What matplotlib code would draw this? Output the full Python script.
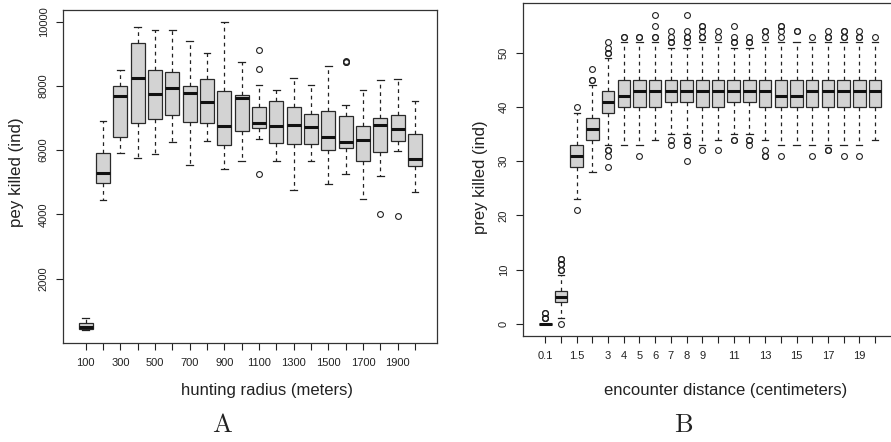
import matplotlib.pyplot as plt
import numpy as np

plt.rcParams['font.family'] = ['Liberation Sans', 'DejaVu Sans']
plt.rcParams['mathtext.fontset'] = 'cm'

# ---- panel A : hunting radius ----
radius = [100, 200, 300, 400, 500, 600, 700, 800, 900, 1000,
          1100, 1200, 1300, 1400, 1500, 1600, 1700, 1800, 1900, 2000]
radius_shown = [100, 300, 500, 700, 900, 1100, 1300, 1500, 1700, 1900]
a_whislo = [390, 4445, 5896, 5751, 5875, 6259, 5523, 6280, 5399, 5647,
            6342, 5658, 4746, 5658, 4943, 5264, 4487, 5192, 5958, 4684]
a_q1 = [420, 4984, 6394, 6850, 6964, 7109, 6870, 6850, 6145, 6601,
        6684, 6218, 6197, 6176, 6000, 6052, 5658, 5938, 6280, 5492]
a_med = [490, 5274, 7689, 8249, 7751, 7948, 7793, 7492, 6756, 7637,
         6839, 6756, 6787, 6725, 6394, 6249, 6321, 6777, 6673, 5720]
a_q3 = [610, 5906, 8010, 9326, 8497, 8425, 8010, 8228, 7844, 7710,
        7337, 7534, 7357, 7130, 7233, 7047, 6756, 6995, 7109, 6487]
a_whishi = [760, 6922, 8487, 9824, 9741, 9741, 9389, 9036, 9990, 8756,
            8041, 7865, 8259, 8041, 8622, 7409, 7886, 8186, 8228, 7534]
a_fliers = [[], [], [], [], [], [], [], [], [], [],
            [9130, 8539, 5243], [], [], [], [], [8777, 8746, 8760], [], [4010], [3935], []]

# ---- panel B : encounter distance ----
dist = ['0.1', '1', '1.5', '2', '3', '4', '5', '6', '7', '8', '9',
        '10', '11', '12', '13', '14', '15', '16', '17', '18', '19', '20']
dist_shown = ['0.1', '1.5', '3', '4', '5', '6', '7', '8', '9', '11', '13', '15', '17', '19']
b_whislo = [0, 1, 23, 28, 33, 33, 33, 34, 35, 35, 33, 34, 35, 35, 34, 33, 33, 33, 33, 33, 33, 34]
b_q1 = [0, 4, 29, 34, 39, 40, 40, 40, 41, 41, 40, 40, 41, 41, 40, 40, 40, 40, 40, 40, 40, 40]
b_med = [0, 5, 31, 36, 41, 42, 43, 43, 43, 43, 43, 43, 43, 43, 43, 42, 42, 43, 43, 43, 43, 43]
b_q3 = [0, 6, 33, 38, 43, 45, 45, 45, 45, 45, 45, 45, 45, 45, 45, 45, 45, 45, 45, 45, 45, 45]
b_whishi = [0, 9, 39, 44, 49, 52, 52, 52, 51, 51, 52, 52, 51, 51, 52, 52, 52, 52, 52, 52, 52, 52]
b_fliers = [[1, 1, 1, 2, 2],
            [10, 10, 11, 11, 12, 12, 0],
            [40, 21],
            [45, 45, 47],
            [50, 50, 51, 52, 32, 32, 31, 29],
            [53, 53],
            [53, 53, 31],
            [57, 55, 53, 53],
            [54, 53, 52, 52, 34, 33],
            [57, 54, 53, 53, 52, 34, 34, 33, 30],
            [55, 55, 54, 53, 53, 32],
            [54, 53, 32],
            [55, 53, 52, 52, 34, 34],
            [53, 52, 52, 34, 34, 33],
            [54, 54, 53, 32, 31, 31],
            [55, 55, 54, 53, 31],
            [54, 54],
            [53, 31],
            [54, 53, 53, 32, 32],
            [54, 54, 53, 53, 31],
            [54, 53, 53, 31],
            [53]]

W, H = 891, 442
fig = plt.figure(figsize=(W / 100, H / 100), dpi=100)


def add_ax(l, t, r, b):
    # axes placed by pixel edges
    return fig.add_axes([l / W, 1 - b / H, (r - l) / W, (b - t) / H])


def draw_boxes(ax, whislo, q1, med, q3, whishi, fliers):
    stats = [dict(whislo=w0, q1=a, med=m, q3=c, whishi=w1, fliers=f)
             for w0, a, m, c, w1, f in zip(whislo, q1, med, q3, whishi, fliers)]
    pos = np.arange(1, len(stats) + 1)
    ax.bxp(stats, positions=pos, widths=0.8, capwidths=0.4, patch_artist=True,
           boxprops=dict(facecolor='#d3d3d3', edgecolor='#2a2a2a', linewidth=0.9),
           medianprops=dict(color='#111111', linewidth=2.2, solid_capstyle='butt'),
           whiskerprops=dict(color='#222222', linewidth=0.9, linestyle=(0, (3, 3))),
           capprops=dict(color='#222222', linewidth=0.9),
           flierprops=dict(marker='o', markerfacecolor='none', markeredgecolor='#222222',
                           markersize=4.2, markeredgewidth=0.8))
    for s in ax.spines.values():
        s.set_color('#333333')
        s.set_linewidth(0.9)
    ax.tick_params(axis='both', length=5, width=0.8, labelsize=8, colors='#222222', pad=5.5)
    return pos


axA = add_ax(63.3, 9.7, 436.7, 343)
pos = draw_boxes(axA, a_whislo, a_q1, a_med, a_q3, a_whishi, a_fliers)
axA.set_xlim(1 - 1.29, len(radius) + 1.25)
axA.set_ylim(-9, 10374)
axA.set_xticks(pos)
axA.set_xticklabels([str(r) if r in radius_shown else '' for r in radius])
axA.set_yticks([2000, 4000, 6000, 8000, 10000])
plt.setp(axA.get_yticklabels(), rotation=90, va='center')

axB = add_ax(523.3, 2.7, 897, 336)
pos = draw_boxes(axB, b_whislo, b_q1, b_med, b_q3, b_whishi, b_fliers)
axB.set_xlim(1 - 1.40, len(dist) + 1.40)
axB.set_ylim(-2.28, 59.28)
axB.set_xticks(pos)
axB.set_xticklabels([d if d in dist_shown else '' for d in dist])
axB.set_yticks([0, 10, 20, 30, 40, 50])
plt.setp(axB.get_yticklabels(), rotation=90, va='center')


def ftext(x, y, s, **kw):
    fig.text(x / W, 1 - y / H, s, ha='center', va='center', color='#222222', **kw)


ftext(17, 172, 'pey killed (ind)', rotation=90, fontsize=12.2)
ftext(267, 390, 'hunting radius (meters)', fontsize=12)
ftext(222, 425, r'$\mathrm{A}$', fontsize=19)
ftext(480, 177, 'prey killed (ind)', rotation=90, fontsize=12)
ftext(726, 390, 'encounter distance (centimeters)', fontsize=12)
ftext(684, 425, r'$\mathrm{B}$', fontsize=19)

fig.savefig('out.png', dpi=100)
plt.close()
